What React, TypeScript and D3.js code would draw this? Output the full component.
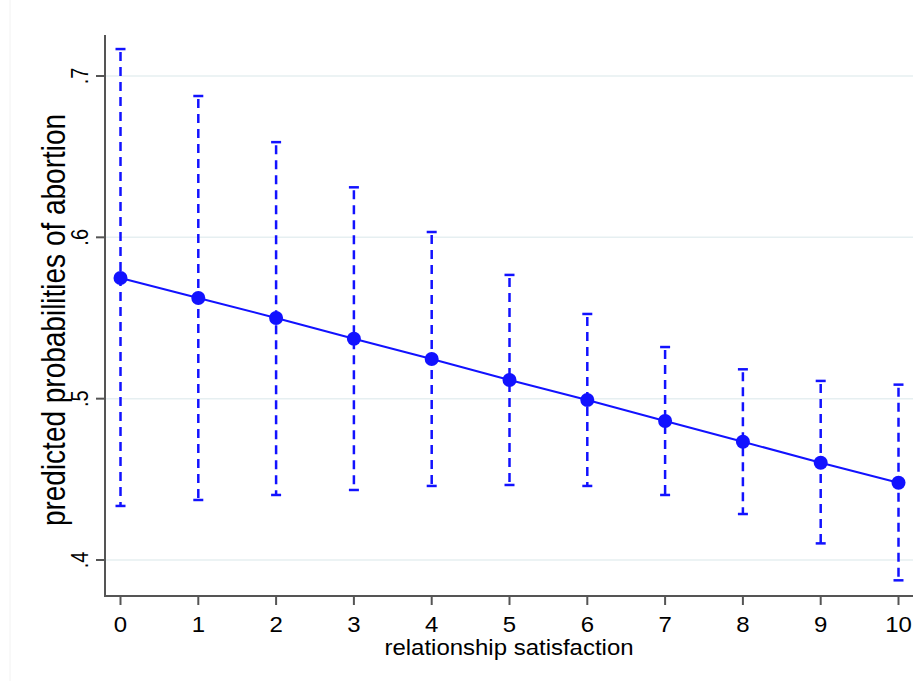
import React from "react";
import * as d3 from "d3";

const xValues = [0, 1, 2, 3, 4, 5, 6, 7, 8, 9, 10];
const predicted = [0.5748, 0.5624, 0.5500, 0.5371, 0.5246, 0.5116, 0.4992, 0.4862, 0.4733, 0.4603, 0.4479];
const upperCI = [0.7167, 0.6876, 0.6590, 0.6310, 0.6033, 0.5767, 0.5525, 0.5320, 0.5182, 0.5110, 0.5087];
const lowerCI = [0.4335, 0.4372, 0.4403, 0.4434, 0.4459, 0.4465, 0.4459, 0.4403, 0.4285, 0.4103, 0.3874];
const yTicks = [0.4, 0.5, 0.6, 0.7];
const yTickLabels = [".4", ".5", ".6", ".7"];
const xTitle = "relationship satisfaction";
const yTitle = "predicted probabilities of abortion";

const W = 922;
const H = 681;
const BLUE = "#1212ff";
const AXIS = "#555555";
const FONT = "'Liberation Sans', Arial, sans-serif";

export default function App() {
  const x = d3.scaleLinear().domain([0, 10]).range([120.5, 898.5]);
  const y = d3.scaleLinear().domain([0.4, 0.7]).range([560, 76]);
  const axisLeftX = 105;
  const axisBottomY = 596;
  const plotRight = 913;
  const line = d3
    .line<number>()
    .x((_, i) => x(xValues[i]))
    .y((d) => y(d));

  return (
    <svg
      width={W}
      height={H}
      style={{ position: "absolute", left: 0, top: 0, background: "#fff" }}
    >
      <rect x={0} y={0} width={W} height={H} fill="#ffffff" />
      <line x1={10} x2={10} y1={0} y2={H} stroke="#f2f2f2" strokeWidth={1} />
      {/* gridlines */}
      {yTicks.map((t) => (
        <line
          key={"g" + t}
          x1={axisLeftX}
          x2={plotRight}
          y1={y(t)}
          y2={y(t)}
          stroke="#e6eff1"
          strokeWidth={1.5}
        />
      ))}
      {/* error bars */}
      {xValues.map((v, i) => (
        <g key={"e" + v} stroke={BLUE} strokeWidth={2.5} fill="none">
          <line
            x1={x(v)}
            x2={x(v)}
            y1={y(upperCI[i]) + 3}
            y2={y(lowerCI[i])}
            strokeDasharray="9,6"
          />
          <line x1={x(v) - 5} x2={x(v) + 5} y1={y(upperCI[i])} y2={y(upperCI[i])} />
          <line x1={x(v) - 5} x2={x(v) + 5} y1={y(lowerCI[i])} y2={y(lowerCI[i])} />
        </g>
      ))}
      {/* prediction line */}
      <path d={line(predicted) || ""} fill="none" stroke={BLUE} strokeWidth={2} />
      {predicted.map((p, i) => (
        <circle key={"c" + i} cx={x(xValues[i])} cy={y(p)} r={7} fill={BLUE} />
      ))}
      {/* axes */}
      <line x1={axisLeftX} x2={axisLeftX} y1={35} y2={axisBottomY + 1} stroke={AXIS} strokeWidth={2} />
      <line x1={axisLeftX - 1} x2={plotRight} y1={axisBottomY} y2={axisBottomY} stroke={AXIS} strokeWidth={2} />
      {yTicks.map((t, i) => (
        <g key={"yt" + t}>
          <line x1={axisLeftX - 9} x2={axisLeftX} y1={y(t)} y2={y(t)} stroke={AXIS} strokeWidth={2} />
          <text
            transform={`translate(88,${y(t)}) scale(1.2,1) rotate(-90)`}
            textAnchor="middle"
            fontFamily={FONT}
            fontSize={20}
            fill="#000"
          >
            {yTickLabels[i]}
          </text>
        </g>
      ))}
      {xValues.map((v) => (
        <g key={"xt" + v}>
          <line x1={x(v)} x2={x(v)} y1={axisBottomY} y2={axisBottomY + 9} stroke={AXIS} strokeWidth={2} />
          <text
            transform={`translate(${x(v)},632) scale(1.09,1)`}
            textAnchor="middle"
            fontFamily={FONT}
            fontSize={22}
            fill="#000"
          >
            {v}
          </text>
        </g>
      ))}
      <text
        transform={`translate(509,655) scale(1.09,1)`}
        textAnchor="middle"
        fontFamily={FONT}
        fontSize={22}
        fill="#000"
      >
        {xTitle}
      </text>
      <text
        transform={`translate(65,320) scale(1.2,1) rotate(-90)`}
        textAnchor="middle"
        fontFamily={FONT}
        fontSize={28}
        fill="#000"
      >
        {yTitle}
      </text>
    </svg>
  );
}
